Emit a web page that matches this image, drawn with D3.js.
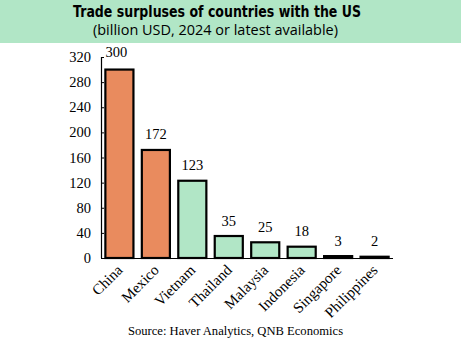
<!DOCTYPE html>
<html><head><meta charset="utf-8">
<script src="https://cdn.jsdelivr.net/npm/d3@7"></script>
<style>body{margin:0;background:#fff}svg{display:block}</style>
</head><body>
<script>
const countries = ["China","Mexico","Vietnam","Thailand","Malaysia","Indonesia","Singapore","Philippines"];
const surpluses = [300,172,123,35,25,18,3,2];
const highlight = ["China","Mexico"];
const yTicks = [0,40,80,120,160,200,240,280,320];

const W=461,H=346;
const svg=d3.select("body").append("svg").attr("width",W).attr("height",H);
svg.append("rect").attr("x",0).attr("y",0).attr("width",W).attr("height",43).attr("fill","#b1e6c6");
svg.append("text").attr("x",217).attr("y",16.5).attr("text-anchor","middle")
  .attr("font-family","DejaVu Sans").attr("font-weight","bold").attr("font-size",15)
  .attr("textLength",288).attr("lengthAdjust","spacingAndGlyphs")
  .text("Trade surpluses of countries with the US");
svg.append("text").attr("x",215.5).attr("y",34.5).attr("text-anchor","middle")
  .attr("font-family","Open Sans").attr("font-size",14.5)
  .attr("textLength",245).attr("lengthAdjust","spacingAndGlyphs")
  .text("(billion USD, 2024 or latest available)");

const x=d3.scaleBand().domain(countries).range([101,393]).paddingInner(0.23).paddingOuter(0.12);
const y=d3.scaleLinear().domain([0,320]).range([258,57]);

const g=svg.append("g");
g.selectAll("rect.bar").data(countries).join("rect").attr("class","bar")
  .attr("x",d=>x(d)).attr("width",x.bandwidth())
  .attr("y",(d,i)=>y(surpluses[i])).attr("height",(d,i)=>y(0)-y(surpluses[i]))
  .attr("fill",d=>highlight.includes(d)?"#e98b5e":"#b1e6c6")
  .attr("stroke","#000").attr("stroke-width",2.2);

// y axis
const ya=svg.append("g").attr("transform","translate(101,0)")
  .call(d3.axisRight(y).tickValues(yTicks).tickSize(3).tickFormat(""));
ya.select(".domain").attr("stroke","#000").attr("stroke-width",1.2).attr("d","M3,57.5H0.5V258");
ya.selectAll(".tick line").attr("stroke","#000");
svg.append("g").selectAll("text").data(yTicks).join("text")
  .attr("x",91).attr("y",d=>y(d)+5).attr("text-anchor","end")
  .attr("font-family","Liberation Serif").attr("font-size",14.5).text(d=>d);

// x axis line
const xa=svg.append("g").attr("transform","translate(0,258)")
  .call(d3.axisBottom(x).tickSize(0).tickFormat(""));
xa.select(".domain").attr("stroke","#000").attr("stroke-width",1.2).attr("d","M101,0.5H393");

// value labels
svg.append("g").selectAll("text").data(countries).join("text")
  .attr("x",(d,i)=>i===0?x(d)+x.bandwidth()/2-3:x(d)+x.bandwidth()/2)
  .attr("y",(d,i)=>i===0?y(surpluses[i])-12.5:y(surpluses[i])-10.5)
  .attr("text-anchor","middle")
  .attr("font-family","Liberation Serif").attr("font-size",14.5).text((d,i)=>surpluses[i]);

// category labels
svg.append("g").selectAll("text").data(countries).join("text")
  .attr("transform",d=>`translate(${x(d)+x.bandwidth()/2+4},${271}) rotate(-45)`)
  .attr("text-anchor","end")
  .attr("font-family","Liberation Serif").attr("font-size",15).text(d=>d);

svg.append("text").attr("x",235.5).attr("y",335).attr("text-anchor","middle")
  .attr("font-family","Liberation Serif").attr("font-size",12.6).text("Source: Haver Analytics, QNB Economics");
</script>
</body></html>
